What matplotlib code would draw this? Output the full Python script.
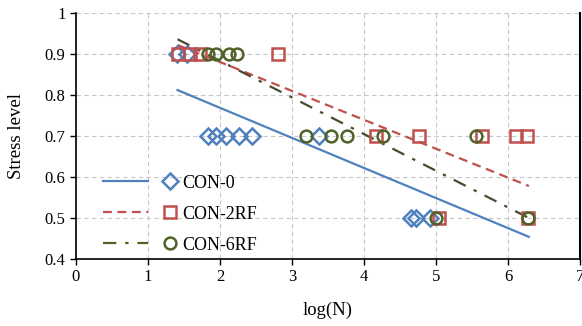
import matplotlib
matplotlib.use("Agg")
import matplotlib.pyplot as plt
from matplotlib.lines import Line2D
from matplotlib.legend_handler import HandlerTuple

plt.rcParams['font.family'] = ['Liberation Serif', 'DejaVu Serif']

# Data
con0_x = [1.40, 1.54, 1.83, 1.95, 2.08, 2.26, 2.45, 3.38, 4.65, 4.72, 4.92]
con0_y = [0.9, 0.9, 0.7, 0.7, 0.7, 0.7, 0.7, 0.7, 0.5, 0.5, 0.5]
con2_x = [1.41, 1.58, 1.72, 2.81, 4.17, 4.76, 5.64, 6.11, 6.27, 5.04, 6.28]
con2_y = [0.9, 0.9, 0.9, 0.9, 0.7, 0.7, 0.7, 0.7, 0.7, 0.5, 0.5]
con6_x = [1.84, 1.95, 2.13, 2.23, 3.20, 3.54, 3.77, 4.27, 5.55, 5.00, 6.28]
con6_y = [0.9, 0.9, 0.9, 0.9, 0.7, 0.7, 0.7, 0.7, 0.7, 0.5, 0.5]

fit0_x = [1.41, 6.29]
fit0_y = [0.812, 0.454]
fit2_x = [1.41, 6.29]
fit2_y = [0.922, 0.578]
fit6_x = [1.41, 6.29]
fit6_y = [0.936, 0.500]

labels = ['CON-0', 'CON-2RF', 'CON-6RF']
xticks = [0, 1, 2, 3, 4, 5, 6, 7]
yticks = [0.4, 0.5, 0.6, 0.7, 0.8, 0.9, 1.0]

blue = '#4F81BD'
red = '#C0504D'
green = '#4F6228'
dark = '#4a4a30'

fig = plt.figure(figsize=(5.82, 3.26), dpi=100)
ax = fig.add_axes([76/582, 1 - 259/326, 504/582, 246/326])

ax.set_xlim(0, 7)
ax.set_ylim(0.4, 1.0)
ax.set_xticks(xticks)
ax.set_yticks(yticks)
ax.set_yticklabels(['0.4', '0.5', '0.6', '0.7', '0.8', '0.9', '1'])
ax.grid(True, color='#c8c8c8', linestyle=(0, (4, 3)), linewidth=0.8)
ax.set_axisbelow(True)

l0, = ax.plot(fit0_x, fit0_y, color=blue, lw=1.6, zorder=2)
l2, = ax.plot(fit2_x, fit2_y, color=red, lw=1.6, linestyle=(0, (4, 2.5)), zorder=2)
l6, = ax.plot(fit6_x, fit6_y, color=dark, lw=1.6, linestyle=(0, (6, 4, 1.5, 4)), zorder=2)

m0, = ax.plot(con0_x, con0_y, 'D', ms=8, mfc='none', mec=blue, mew=1.8, zorder=3)
m2, = ax.plot(con2_x, con2_y, 's', ms=9, mfc='none', mec=red, mew=1.8, zorder=4)
m6, = ax.plot(con6_x, con6_y, 'o', ms=8.5, mfc='none', mec=green, mew=1.8, zorder=5)

lg6 = Line2D([], [], color=green, lw=1.6, linestyle=(0, (6, 4, 1.5, 4)))

leg = ax.legend([(l0, m0), (l2, m2), (lg6, m6)], labels,
                handler_map={tuple: HandlerTuple(ndivide=2, pad=0)},
                loc='upper left', bbox_to_anchor=(0.035, 0.38),
                frameon=False, fontsize=13, handlelength=5.0,
                handletextpad=-0.6, labelspacing=0.78, borderpad=0)

ax.spines['top'].set_visible(False)
ax.spines['right'].set_linewidth(1.5)
ax.spines['left'].set_linewidth(1.2)
ax.spines['bottom'].set_linewidth(1.2)
ax.tick_params(axis='both', direction='out', length=4, width=1, labelsize=12, colors='black')
ax.tick_params(axis='y', right=False)

ax.set_xlabel('log(N)', fontsize=13.5, labelpad=12)
ax.set_ylabel('Stress level', fontsize=13.5, labelpad=14)

fig.savefig('out.png', dpi=100)
